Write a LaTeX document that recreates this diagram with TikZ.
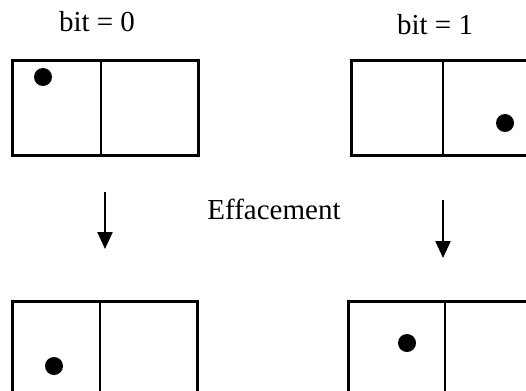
\documentclass[tikz,border=0pt]{standalone}
\usepackage{fontspec}
\setmainfont{Liberation Serif}
\usetikzlibrary{arrows.meta}

\tikzset{
  boite/.style={line width=3pt},
  cloison/.style={line width=1.3pt},
  particule/.style={fill=black},
  fleche/.style={line width=2.4pt,-{Triangle[length=17pt,width=15pt]}},
  etiquette/.style={font=\fontsize{29}{34}\selectfont, anchor=base, inner sep=0pt}
}

\begin{document}
\begin{tikzpicture}[x=1pt,y=-1pt]
        % Paso 1: Cadre de l'image
        \path[use as bounding box, clip] (0,0) rectangle (526,390);

        % Paso 2: Etiquettes des deux états
        \node[etiquette] (bitzero) at (97,32) {bit = 0};
        \node[etiquette] (bitun) at (435,35) {bit = 1};
        \node[etiquette] (efface) at (274,219) {Effacement};

        % Paso 3: Boîtes du haut
        \draw[boite] (12,61) rectangle (198,155);
        \draw[cloison] (101,61) -- (101,155);
        \draw[boite] (351,61) rectangle (537,155);
        \draw[cloison] (443,61) -- (443,155);

        % Paso 4: Boîtes du bas
        \draw[boite] (12,301) rectangle (197,395);
        \draw[cloison] (100,301) -- (100,395);
        \draw[boite] (348,301) rectangle (540,395);
        \draw[cloison] (445,301) -- (445,395);

        % Paso 5: Particules
        \fill[particule] (43,77) circle (9);
        \fill[particule] (505,123) circle (9);
        \fill[particule] (54,366) circle (9);
        \fill[particule] (407,343) circle (9);

        % Paso 6: Flèches de l'effacement
        \coordinate (hautG) at (105,192);
        \coordinate (basG) at (105,249);
        \coordinate (hautD) at (443,200);
        \coordinate (basD) at (443,258);
        \draw[fleche] (hautG) -- (basG);
        \draw[fleche] (hautD) -- (basD);
\end{tikzpicture}
\end{document}
